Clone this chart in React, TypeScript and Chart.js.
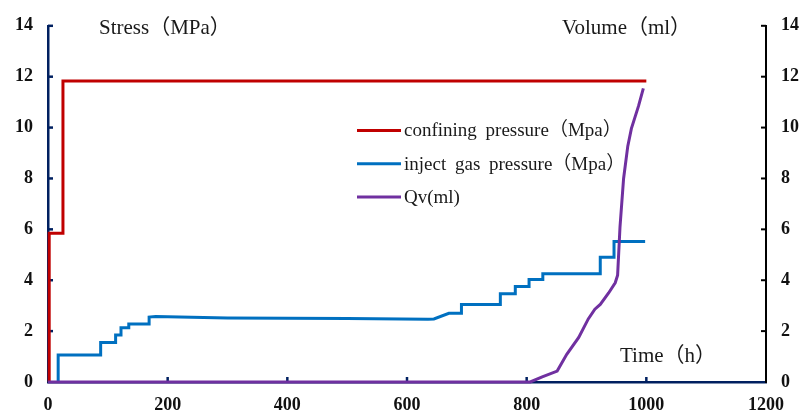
import React, { useEffect, useRef } from 'react';
import { Chart, registerables } from 'chart.js';

Chart.register(...registerables);

// ---- data ----
const confiningTime = [2, 2, 25, 25, 1000];
const confiningValue = [0, 5.85, 5.85, 11.83, 11.83];

const gasTime = [17, 17, 88, 88, 113, 113, 122, 122, 135, 135, 169, 169, 180, 300, 500, 635, 645, 670, 691, 691, 756, 756, 781, 781, 804, 804, 827, 827, 923, 923, 946, 946, 998];
const gasValue = [0, 1.06, 1.06, 1.55, 1.55, 1.85, 1.85, 2.13, 2.13, 2.28, 2.28, 2.55, 2.57, 2.52, 2.5, 2.47, 2.48, 2.7, 2.7, 3.05, 3.05, 3.47, 3.47, 3.75, 3.75, 4.03, 4.03, 4.25, 4.25, 4.9, 4.9, 5.52, 5.52];

const qvTime = [0, 806, 826, 851, 867, 887, 903, 914, 923, 937, 948, 952, 956, 962, 969, 975, 987, 995];
const qvValue = [0, 0, 0.2, 0.43, 1.09, 1.75, 2.48, 2.86, 3.05, 3.5, 3.9, 4.2, 6.1, 8.0, 9.27, 9.96, 10.85, 11.54];

const seriesLabels = ['confining pressure\uFF08Mpa\uFF09', 'inject gas pressure\uFF08Mpa\uFF09', 'Qv(ml)'];
const seriesColors = ['#C00000', '#0070C0', '#7030A0'];

const xMin = 0, xMax = 1200, xStep = 200;
const yMin = 0, yMax = 14, yStep = 2;

const leftTitle = 'Stress\uFF08MPa\uFF09';
const rightTitle = 'Volume\uFF08ml\uFF09';
const xTitle = 'Time\uFF08h\uFF09';

const NAVY = '#002060';
const SERIF = '"Liberation Serif", "Times New Roman", "Noto Sans CJK SC", serif';

const toPoints = (xs: number[], ys: number[]) => xs.map((x, i) => ({ x, y: ys[i] }));

const decorPlugin = {
  id: 'decor',
  beforeDatasetsDraw(chart: any) {
    const { ctx, chartArea, scales } = chart;
    ctx.save();
    ctx.lineWidth = 2.5;
    ctx.strokeStyle = NAVY;
    for (let v = yMin + yStep; v <= yMax; v += yStep) {
      const y = scales.y.getPixelForValue(v);
      ctx.beginPath();
      ctx.moveTo(chartArea.left, y);
      ctx.lineTo(chartArea.left + 5, y);
      ctx.stroke();
    }
    for (let v = xMin + xStep; v < xMax; v += xStep) {
      const x = scales.x.getPixelForValue(v);
      ctx.beginPath();
      ctx.moveTo(x, chartArea.bottom);
      ctx.lineTo(x, chartArea.bottom - 5);
      ctx.stroke();
    }
    ctx.strokeStyle = '#000';
    ctx.lineWidth = 2;
    for (let v = yMin + yStep; v <= yMax; v += yStep) {
      const y = scales.y2.getPixelForValue(v);
      ctx.beginPath();
      ctx.moveTo(chartArea.right, y);
      ctx.lineTo(chartArea.right - 5, y);
      ctx.stroke();
    }
    ctx.restore();
  },
  afterDraw(chart: any) {
    const { ctx } = chart;
    ctx.save();
    ctx.fillStyle = '#1a1a1a';
    ctx.textBaseline = 'alphabetic';
    ctx.textAlign = 'left';
    ctx.font = `21px ${SERIF}`;
    ctx.fillText(leftTitle, 99, 34);
    ctx.fillText(rightTitle, 562, 34);
    ctx.fillText(xTitle, 620, 362);

    ctx.font = `19px ${SERIF}`;
    try { (ctx as any).wordSpacing = '4px'; } catch (e) { /* ignore */ }
    const lx0 = 357, lx1 = 401, ly0 = 130.5, gap = 33.3;
    seriesLabels.forEach((lab, i) => {
      const y = ly0 + i * gap;
      ctx.strokeStyle = seriesColors[i];
      ctx.lineWidth = 3;
      ctx.beginPath();
      ctx.moveTo(lx0, y);
      ctx.lineTo(lx1, y);
      ctx.stroke();
      ctx.fillStyle = '#1a1a1a';
      ctx.textBaseline = 'middle';
      ctx.fillText(lab, 404, y + 1);
    });
    ctx.restore();
  },
};

export default function App() {
  const ref = useRef<HTMLCanvasElement>(null);
  useEffect(() => {
    if (!ref.current) return;
    const tickFont = { family: SERIF, size: 18, weight: 'bold' as const };
    const fmt = (v: any) => String(v);
    const chart = new Chart(ref.current, {
      type: 'line',
      data: {
        datasets: [
          {
            label: seriesLabels[2],
            data: toPoints(qvTime, qvValue),
            borderColor: seriesColors[2],
            borderWidth: 3,
            pointRadius: 0,
            yAxisID: 'y2',
            clip: 5,
            order: 0,
          } as any,
          {
            label: seriesLabels[1],
            data: toPoints(gasTime, gasValue),
            borderColor: seriesColors[1],
            borderWidth: 3,
            pointRadius: 0,
            yAxisID: 'y',
            clip: 5,
            order: 1,
          },
          {
            label: seriesLabels[0],
            data: toPoints(confiningTime, confiningValue),
            borderColor: seriesColors[0],
            borderWidth: 3,
            pointRadius: 0,
            yAxisID: 'y',
            clip: 5,
            order: 2,
          },
        ],
      },
      options: {
        animation: false,
        responsive: false,
        maintainAspectRatio: false,
        layout: { padding: { top: 14, left: 0, right: 0, bottom: 0 } },
        plugins: { legend: { display: false }, tooltip: { enabled: false } },
        elements: { line: { tension: 0 } },
        scales: {
          x: {
            type: 'linear',
            min: xMin,
            max: xMax,
            ticks: { stepSize: xStep, color: '#111', font: tickFont, padding: 13, callback: fmt },
            grid: { display: false, drawTicks: false },
            border: { display: true, color: NAVY, width: 2.5 },
            afterFit: (s: any) => { s.height = 37; },
          },
          y: {
            type: 'linear',
            position: 'left',
            min: yMin,
            max: yMax,
            ticks: { stepSize: yStep, color: '#111', font: tickFont, padding: 15, callback: fmt },
            grid: { display: false, drawTicks: false },
            border: { display: true, color: NAVY, width: 2.5 },
            afterFit: (s: any) => { s.width = 48; },
          },
          y2: {
            type: 'linear',
            position: 'right',
            min: yMin,
            max: yMax,
            ticks: { stepSize: yStep, color: '#111', font: tickFont, padding: 15, callback: fmt },
            grid: { display: false, drawTicks: false },
            border: { display: true, color: '#000', width: 2 },
            afterFit: (s: any) => { s.width = 37; },
          },
        },
      },
      plugins: [decorPlugin],
    });
    return () => chart.destroy();
  }, []);
  return (
    <div style={{ position: 'fixed', left: 0, top: 0, width: 803, height: 419, background: '#fff' }}>
      <canvas ref={ref} width={803} height={419} style={{ display: 'block' }} />
    </div>
  );
}
